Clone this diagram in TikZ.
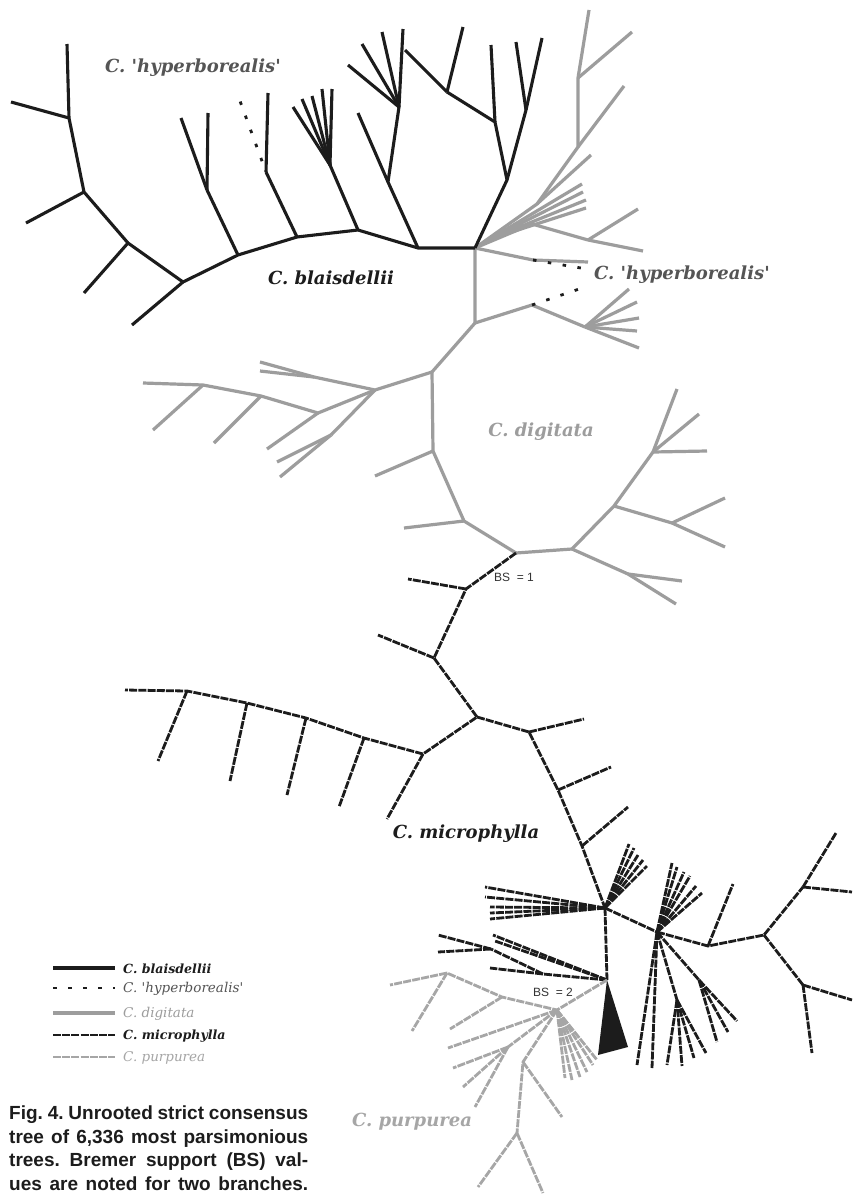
\documentclass[tikz,border=0pt]{standalone}
\usepackage{fontspec}
\setmainfont{DejaVu Serif}
\newfontfamily\capfont{Liberation Sans}
\newfontfamily\spfont{DejaVu Serif}
\definecolor{blk}{HTML}{1C1C1C}
\definecolor{dgc}{HTML}{9D9D9D}
\definecolor{puc}{HTML}{A6A6A6}
\definecolor{hyc}{HTML}{555555}
\newcommand\leafs[3]{\foreach \xx/\yy [count=\ii] in {#3} {\coordinate (#2-\ii) at (\xx,\yy); \draw[#1] (#2) -- (#2-\ii);}}
\begin{document}
\begin{tikzpicture}[x=1pt,y=-1pt,
  bl/.style={draw=blk, line width=3.1pt, line join=round},
  dg/.style={draw=dgc, line width=3.2pt, line join=round},
  hy/.style={draw=blk, line width=2.8pt, dash pattern=on 3.5pt off 11.5pt},
  mi/.style={draw=blk, line width=2.8pt, dash pattern=on 8pt off 1.2pt, line join=round},
  pu/.style={draw=puc, line width=2.8pt, dash pattern=on 8pt off 1.2pt, line join=round},
  sp/.style={font=\spfont\bfseries\itshape\fontsize{18}{22}\selectfont, inner sep=0},
  lg/.style={font=\spfont\itshape\fontsize{13.5}{16}\selectfont, anchor=west, inner sep=0},
  lgb/.style={lg, font=\spfont\bfseries\itshape\fontsize{12.6}{16}\selectfont},
  bs/.style={font=\capfont\fontsize{12}{14}\selectfont, text=black!80, inner sep=0}]
\fill[white] (0,0) rectangle (852,1194);
\useasboundingbox (0,0) rectangle (852,1194);
% ---------------- C. digitata (gray solid) -----------------
\coordinate (J) at (475,248);
\coordinate (G1) at (537,204); \coordinate (G2) at (578,147); \coordinate (G3) at (578,78);
\draw[dg] (J) -- (G1) -- (G2) -- (G3);
\leafs{dg}{G3}{589/10,632/32}
\leafs{dg}{G2}{624/86}
\leafs{dg}{G1}{591/155}
\coordinate (F0) at (490,239);
\draw[dg] (J) -- (F0);
\leafs{dg}{F0}{582/184,583/192,586/200,586/208}
\coordinate (G4) at (532,224); \coordinate (G5) at (588,240);
\draw[dg] (J) -- (G4) -- (G5);
\leafs{dg}{G5}{638/209,643/251}
\coordinate (H1) at (533,260);
\draw[dg] (J) -- (H1);
\leafs{dg}{H1}{588/262}
\coordinate (K1) at (475,323); \coordinate (K2) at (532,305); \coordinate (K3) at (585,327);
\draw[dg] (J) -- (K1) -- (K2) -- (K3);
\leafs{dg}{K3}{629/289,637/302,639/318,637/331,639/348}
\coordinate (D1) at (432,372);
\draw[dg] (K1) -- (D1);
\coordinate (L1) at (375,390); \coordinate (L1b) at (314,377);
\draw[dg] (D1) -- (L1) -- (L1b);
\leafs{dg}{L1b}{260/362,260/371}
\coordinate (L2) at (318,413); \coordinate (L3) at (261,396); \coordinate (L4) at (203,385);
\coordinate (L4t) at (143,383);
\draw[dg] (L1) -- (L2) -- (L3) -- (L4) -- (L4t);
\leafs{dg}{L3}{214/443}
\leafs{dg}{L4}{153/430}
\leafs{dg}{L2}{267/449}
\coordinate (L5) at (331,435);
\draw[dg] (L1) -- (L5);
\leafs{dg}{L5}{277/462,280/477}
\coordinate (D2) at (433,451); \coordinate (D3) at (464,521); \coordinate (BS) at (516,553);
\draw[dg] (D1) -- (D2) -- (D3) -- (BS);
\leafs{dg}{D2}{375/476}
\leafs{dg}{D3}{404/528}
\coordinate (R1) at (572,549); \coordinate (R2) at (614,506); \coordinate (R3) at (653,452);
\draw[dg] (BS) -- (R1) -- (R2) -- (R3);
\leafs{dg}{R3}{677/389,699/414,707/451}
\coordinate (R4) at (672,523);
\draw[dg] (R2) -- (R4);
\leafs{dg}{R4}{725/498,725/547}
\coordinate (R5) at (628,574);
\draw[dg] (R1) -- (R5);
\leafs{dg}{R5}{682/581,676/604}
% ---------------- C. 'hyperborealis' (dotted) -----------------
\coordinate (H1d) at (587,269);
\draw[hy] (H1) -- (H1d);
\coordinate (K2d) at (585,287);
\draw[hy] (K2) -- (K2d);
% ---------------- C. blaisdellii (black solid) -----------------
\coordinate (b1) at (418,248); \coordinate (b2) at (358,230); \coordinate (b3) at (297,237);
\coordinate (b4) at (238,255); \coordinate (b5) at (183,282); \coordinate (b6) at (128,243);
\coordinate (b7) at (84,192); \coordinate (b8) at (69,118); \coordinate (b8t) at (67,44);
\draw[bl] (J) -- (b1) -- (b2) -- (b3) -- (b4) -- (b5) -- (b6) -- (b7) -- (b8) -- (b8t);
\leafs{bl}{b5}{132/325}
\leafs{bl}{b6}{84/293}
\leafs{bl}{b7}{26/223}
\leafs{bl}{b8}{11/102}
\coordinate (b4n) at (207,190);
\draw[bl] (b4) -- (b4n);
\leafs{bl}{b4n}{181/118,208/113}
\coordinate (b3n) at (266,172);
\draw[bl] (b3) -- (b3n);
\leafs{bl}{b3n}{268/93}
\coordinate (b3d) at (240,101);
\draw[hy, dash phase=3.5pt] (b3n) -- (b3d);
\coordinate (b2n) at (330,165);
\draw[bl] (b2) -- (b2n);
\leafs{bl}{b2n}{293/107,302/99,312/96,322/89,332/89}
\coordinate (b1n) at (388,182); \coordinate (b1f) at (399,107);
\draw[bl] (b1) -- (b1n) -- (b1f);
\leafs{bl}{b1n}{358/113}
\leafs{bl}{b1f}{348/65,362/44,382/32,403/29}
\coordinate (Jb) at (507,180); \coordinate (Jc) at (495,122); \coordinate (Jd) at (447,92);
\coordinate (Je) at (526,110);
\draw[bl] (J) -- (Jb) -- (Jc) -- (Jd);
\draw[bl] (Jb) -- (Je);
\leafs{bl}{Jc}{491/45}
\leafs{bl}{Jd}{463/27,405/50}
\leafs{bl}{Je}{516/42,542/38}
% ---------------- C. microphylla (black dashed) -----------------
\coordinate (M1) at (466,589); \coordinate (M2) at (434,658); \coordinate (M3) at (477,717);
\coordinate (M4) at (423,754);
\draw[mi] (BS) -- (M1) -- (M2) -- (M3) -- (M4);
\leafs{mi}{M1}{408/579}
\leafs{mi}{M2}{378/635}
\leafs{mi}{M4}{387/819}
\coordinate (Q1) at (364,738); \coordinate (Q2) at (306,718); \coordinate (Q3) at (247,703);
\coordinate (Q4) at (187,691); \coordinate (Q4t) at (125,690);
\draw[mi] (M4) -- (Q1) -- (Q2) -- (Q3) -- (Q4) -- (Q4t);
\leafs{mi}{Q1}{339/807}
\leafs{mi}{Q2}{287/795}
\leafs{mi}{Q3}{230/781}
\leafs{mi}{Q4}{158/761}
\coordinate (M5) at (529,732); \coordinate (M6) at (558,790); \coordinate (M7) at (582,846);
\coordinate (M8) at (605,908);
\draw[mi] (M3) -- (M5) -- (M6) -- (M7) -- (M8);
\leafs{mi}{M5}{584/719}
\leafs{mi}{M6}{611/767}
\leafs{mi}{M7}{628/807}
\leafs{mi}{M8}{629/844,634/848,638/855,643/860,647/866,485/887,485/897,490/907,490/913,490/919}
\coordinate (M9) at (657,932); \coordinate (M10) at (607,980);
\draw[mi] (M8) -- (M9);
\draw[mi] (M8) -- (M10);
\coordinate (N1) at (491,949); \coordinate (N2) at (543,974);
\draw[mi] (M10) -- (N2) -- (N1);
\leafs{mi}{N1}{438/935,438/952}
\leafs{mi}{N2}{490/968}
\leafs{mi}{M10}{493/935,495/941}
\coordinate (W1) at (598,1055); \coordinate (W2) at (628,1047);
\fill[blk] (M10) -- (W1) -- (W2) -- cycle;
\leafs{mi}{M9}{672/863,677/867,684/872,690/876,696/886,702/893,637/1065,652/1068}
\coordinate (M11) at (708,946); \coordinate (M12) at (764,935);
\coordinate (M13) at (803,887); \coordinate (M14) at (803,985);
\draw[mi] (M9) -- (M11) -- (M12) -- (M13);
\draw[mi] (M12) -- (M14);
\leafs{mi}{M11}{733/884}
\leafs{mi}{M13}{836/833,852/892}
\leafs{mi}{M14}{812/1053,852/1000}
\coordinate (M15) at (677,1000); \coordinate (M16) at (699,980);
\draw[mi] (M9) -- (M15);
\draw[mi] (M9) -- (M16);
\leafs{mi}{M15}{667/1065,682/1066,694/1058,706/1053}
\leafs{mi}{M16}{717/1042,728/1032,737/1021}
% ---------------- C. purpurea (gray dashed) -----------------
\coordinate (P1) at (557,1010); \coordinate (P2) at (502,997); \coordinate (P3) at (447,973);
\draw[pu] (M10) -- (P1) -- (P2) -- (P3);
\leafs{pu}{P3}{390/985,412/1031}
\leafs{pu}{P2}{450/1029}
\leafs{pu}{P1}{448/1048,565/1078,572/1080,580/1077,587/1072,593/1065,597/1060}
\coordinate (P4) at (508,1047);
\draw[pu] (P1) -- (P4);
\leafs{pu}{P4}{453/1068,463/1087,475/1107}
\coordinate (P5) at (523,1062); \coordinate (P6) at (517,1133);
\draw[pu] (P1) -- (P5) -- (P6);
\leafs{pu}{P5}{562/1117}
\leafs{pu}{P6}{478/1187,543/1193}
% ---------------- labels -----------------
\node[sp, text=hyc] (lhy1) at (193,68) {C. \textquotesingle hyperborealis\textquotesingle};
\node[sp, text=blk] (lbl) at (331,278) {C. blaisdellii};
\node[sp, text=hyc] (lhy2) at (682,275) {C. \textquotesingle hyperborealis\textquotesingle};
\node[sp, text=dgc] (ldg) at (541,432) {C. digitata};
\node[sp, text=blk] (lmi) at (466,834) {C. microphylla};
\node[sp, text=puc] (lpu) at (412,1122) {C. purpurea};
\node[bs] (bs1) at (514,577) {BS\ \ = 1};
\node[bs] (bs2) at (553,992) {BS\ \ = 2};
% ---------------- legend -----------------
\coordinate (lgA1) at (53,968); \coordinate (lgB1) at (115,968);
\coordinate (lgA2) at (53,988); \coordinate (lgB2) at (115,988);
\coordinate (lgA3) at (53,1013); \coordinate (lgB3) at (115,1013);
\coordinate (lgA4) at (53,1035); \coordinate (lgB4) at (115,1035);
\coordinate (lgA5) at (53,1057); \coordinate (lgB5) at (115,1057);
\draw[bl] (lgA1) -- (lgB1);
\draw[hy] (lgA2) -- (lgB2);
\draw[dg] (lgA3) -- (lgB3);
\draw[mi] (lgA4) -- (lgB4);
\draw[pu] (lgA5) -- (lgB5);
\node[lgb, text=blk] (lg1) at (123,969) {C. blaisdellii};
\node[lg, text=hyc] (lg2) at (123,989) {C. \textquotesingle hyperborealis\textquotesingle};
\node[lg, text=dgc] (lg3) at (123,1014) {C. digitata};
\node[lgb, text=blk] (lg4) at (123,1036) {C. microphylla};
\node[lg, text=puc] (lg5) at (123,1058) {C. purpurea};
% ---------------- caption -----------------
\node[anchor=north west, inner sep=0, align=left, text=blk,
      font=\capfont\bfseries\fontsize{19}{23.4}\selectfont\frenchspacing] (cap) at (9,1106)
  {\makebox[299pt][s]{Fig. 4. Unrooted strict consensus}\\
   \makebox[299pt][s]{tree of 6,336 most parsimonious}\\
   \makebox[299pt][s]{trees. Bremer support (BS) val-}\\
   \makebox[299pt][s]{ues are noted for two branches.}};
\end{tikzpicture}
\end{document}
